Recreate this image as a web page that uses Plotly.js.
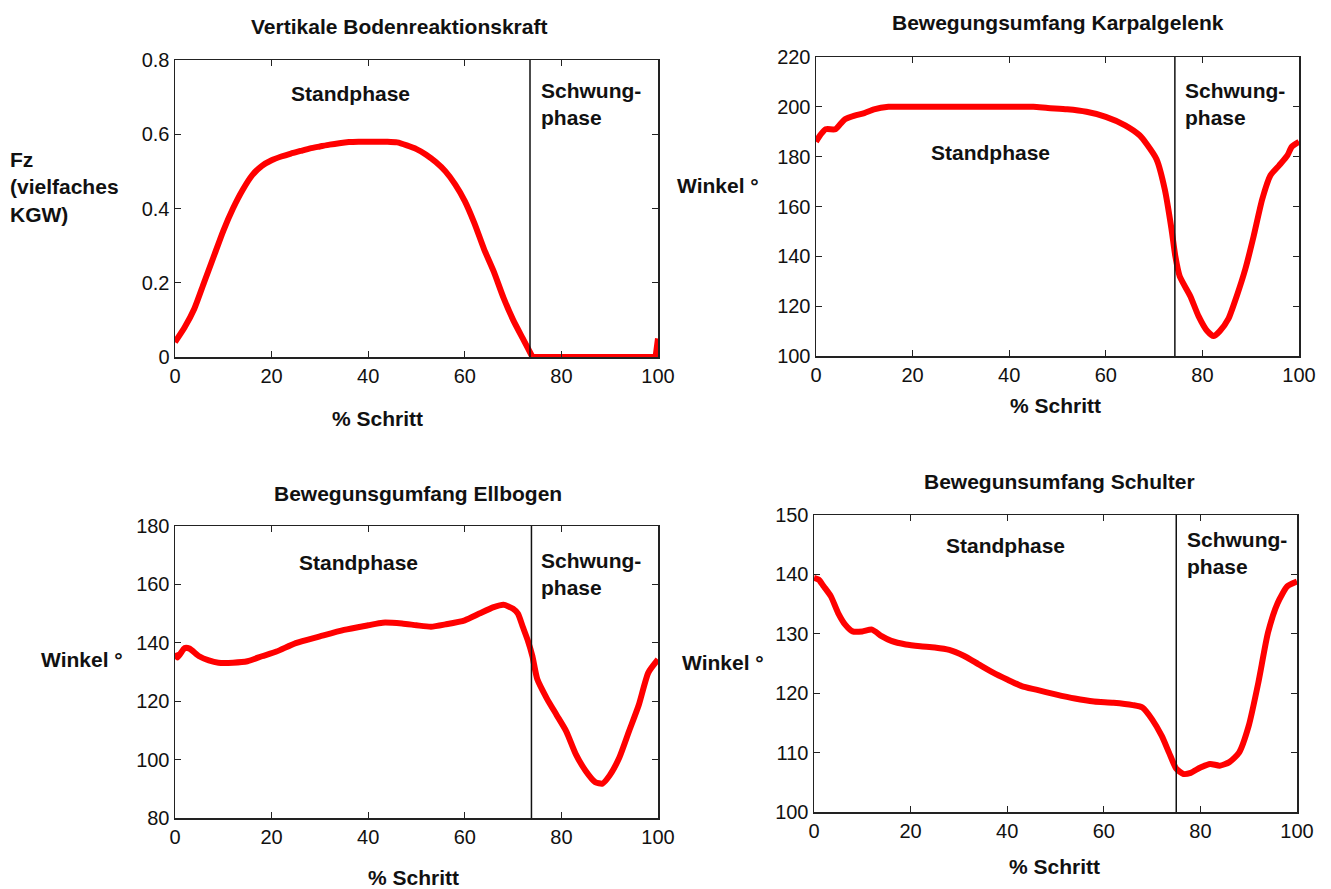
<!DOCTYPE html>
<html>
<head>
<meta charset="utf-8">
<script src="https://cdn.plot.ly/plotly-3.0.1.min.js"></script>
<style>html,body{margin:0;padding:0;background:#fff;}#chart{width:1331px;height:889px;}</style>
</head>
<body>
<div id="chart"></div>
<script>
// ---- Data ----
const fzX = [0,2,4,6,8,10,12,14,16,18,20,22,24,26,28,30,32,34,36,38,40,42,44,46,48,50,52,54,56,58,60,62,64,66,68,70,72,73,74,80,90,99.5,100];
const fzY = [0.04,0.08,0.13,0.2,0.27,0.34,0.4,0.45,0.49,0.515,0.53,0.54,0.548,0.555,0.562,0.567,0.572,0.576,0.579,0.58,0.58,0.58,0.58,0.578,0.57,0.56,0.545,0.525,0.5,0.465,0.42,0.36,0.29,0.23,0.16,0.1,0.05,0.025,0.0,0,0,0,0.05];

const karpX = [0,1,2,4,5,6,8,10,12,15,20,30,40,45,48,52,56,60,64,67,68.5,70.5,72.2,73.6,74.4,75.3,77.5,79.2,81,82.3,83.6,85.4,87.1,88.9,90.6,92.4,94.1,95.9,97.6,98.5,100];
const karpY = [186,189,191,191,193,195,196.5,197.5,199,200,200,200,200,200,199.5,199,198,196,192.6,188.6,185,179,167,151,140,132,124,116,110,108,110,115,124,135,148,163,172.5,176.5,180.5,184,186];

const ellX = [0,0.5,2,3,5,7,9,12,15,18,21,25,30,35,40,43,47,50,53,56,60,63,66,68,70,71,72,73,74,75,77,79,81,83,85,87,88.5,90,92,94,96,98,100];
const ellY = [136.5,135,138.2,138,135.4,134,133.2,133.2,133.7,135.4,137,139.9,142.2,144.4,146,146.9,146.6,146,145.5,146.3,147.7,150,152.2,153,151.7,150,145.5,141,135.4,127.6,120.9,115.3,109.7,101.8,96.2,92.3,91.8,94.6,100.7,109.7,118.6,129.8,134.3];

const schX = [0,1,2,3.5,5,6.5,8,10,12,14,16,19,22,25,28,31,34,37,40,43,46,50,54,58,62,66,68,70,72,73.5,75,76.5,78,80,82,84,86,88,90,92,94,96,98,100];
const schY = [139.4,139.1,138,136.3,133.5,131.5,130.4,130.4,130.7,129.6,128.8,128.2,127.9,127.7,127.3,126.3,124.9,123.5,122.3,121.2,120.6,119.8,119.1,118.6,118.4,118,117.6,115.6,112.8,110,107.3,106.4,106.6,107.5,108.1,107.8,108.4,110,114.5,121.8,130.2,135.2,138,138.8];

const phaseSplit = [73.5, 74.3, 73.8, 75];
const titles = ["Vertikale Bodenreaktionskraft","Bewegungsumfang Karpalgelenk","Bewegunsgumfang Ellbogen","Bewegunsumfang Schulter"];
const yTitles = ["Fz<br>(vielfaches<br>KGW)","Winkel °","Winkel °","Winkel °"];
const xTitle = "% Schritt";
const standLabel = "Standphase";
const swingLabel = "Schwung-<br>phase";

// ---- Layout helpers ----
const W = 1331, H = 889;
const px = v => v / W;
const py = v => 1 - v / H;

const tickFont = {family: "Liberation Sans, Arial, sans-serif", size: 20, color: "#111"};
const boldFont = {family: "Liberation Sans, Arial, sans-serif", size: 21, color: "#111", weight: "bold"};

function axisX(dom, anchor) {
  return {domain: dom, anchor: anchor, range: [0,100], tickvals:[0,20,40,60,80,100], ticks:"inside", ticklen:6, tickcolor:"#222",
    showline:true, mirror:"ticks", linecolor:"#222", linewidth:1.5, showgrid:false, zeroline:false, tickfont:tickFont, fixedrange:true};
}
function axisY(dom, anchor, range, dtick) {
  return {domain: dom, anchor: anchor, range: range, dtick: dtick, ticks:"inside", ticklen:6, tickcolor:"#222",
    showline:true, mirror:"ticks", linecolor:"#222", linewidth:1.5, showgrid:false, zeroline:false, tickfont:tickFont, fixedrange:true};
}

const splitIdx = fzX.indexOf(74);
const red = "#ff0000";
const traces = [
  {x: fzX.slice(0, splitIdx+1), y: fzY.slice(0, splitIdx+1), xaxis:"x", yaxis:"y", mode:"lines", line:{color:red, width:6, shape:"spline", smoothing:0.6}},
  {x: fzX.slice(splitIdx), y: fzY.slice(splitIdx), xaxis:"x", yaxis:"y", mode:"lines", line:{color:red, width:6, shape:"linear"}},
  {x: karpX, y: karpY, xaxis:"x2", yaxis:"y2", mode:"lines", line:{color:red, width:6, shape:"spline", smoothing:0.6}},
  {x: ellX, y: ellY, xaxis:"x3", yaxis:"y3", mode:"lines", line:{color:red, width:6, shape:"spline", smoothing:0.6}},
  {x: schX, y: schY, xaxis:"x4", yaxis:"y4", mode:"lines", line:{color:red, width:6, shape:"spline", smoothing:0.6}}
];
traces.forEach(t => { t.hoverinfo="skip"; });

const layout = {
  width: W, height: H,
  margin: {l:0, r:0, t:0, b:0},
  paper_bgcolor: "#fff", plot_bgcolor: "#fff",
  showlegend: false,
  xaxis: axisX([px(175), px(658)], "y"),
  yaxis: axisY([py(357), py(60)], "x", [0,0.8], 0.2),
  xaxis2: axisX([px(816), px(1299)], "y2"),
  yaxis2: axisY([py(356), py(57)], "x2", [100,220], 20),
  xaxis3: axisX([px(175), px(658)], "y3"),
  yaxis3: axisY([py(818), py(526)], "x3", [80,180], 20),
  xaxis4: axisX([px(814), px(1297)], "y4"),
  yaxis4: axisY([py(812), py(515)], "x4", [100,150], 10),
  shapes: [],
  annotations: []
};
layout.yaxis.tickvals = [0,0.2,0.4,0.6,0.8];
layout.yaxis.ticktext = ["0","0.2","0.4","0.6","0.8"];

const axNames = ["","2","3","4"];
axNames.forEach((n,i) => {
  layout.shapes.push({type:"line", xref:"x"+n, yref:"y"+n+" domain", x0: phaseSplit[i], x1: phaseSplit[i], y0:0, y1:1, line:{color:"#111", width:1.5}});
});

function ann(text, x, y, xanchor, align) {
  layout.annotations.push({text: text, xref:"paper", yref:"paper", x: px(x), y: py(y), xanchor: xanchor || "center", yanchor:"middle",
    align: align || "center", showarrow:false, font: boldFont});
}
// panel titles
ann(titles[0], 399, 27);
ann(titles[1], 1058, 22);
ann(titles[2], 418, 493);
ann(titles[3], 1059, 482);
// x titles
ann(xTitle, 378, 418);
ann(xTitle, 1055, 405);
ann(xTitle, 413, 877);
ann(xTitle, 1054, 866);
// y titles
ann(yTitles[0], 8, 187, "left", "left");
ann(yTitles[1], 675, 186, "left", "left");
ann(yTitles[2], 39, 659, "left", "left");
ann(yTitles[3], 680, 662, "left", "left");
// phase labels
ann(standLabel, 350, 94);
ann(swingLabel, 539, 104, "left", "left");
ann(standLabel, 990, 153);
ann(swingLabel, 1183, 104, "left", "left");
ann(standLabel, 358, 562);
ann(swingLabel, 539, 574, "left", "left");
ann(standLabel, 1006, 545);
ann(swingLabel, 1185, 553, "left", "left");

Plotly.newPlot("chart", traces, layout, {displayModeBar:false, staticPlot:true});
</script>
</body>
</html>
